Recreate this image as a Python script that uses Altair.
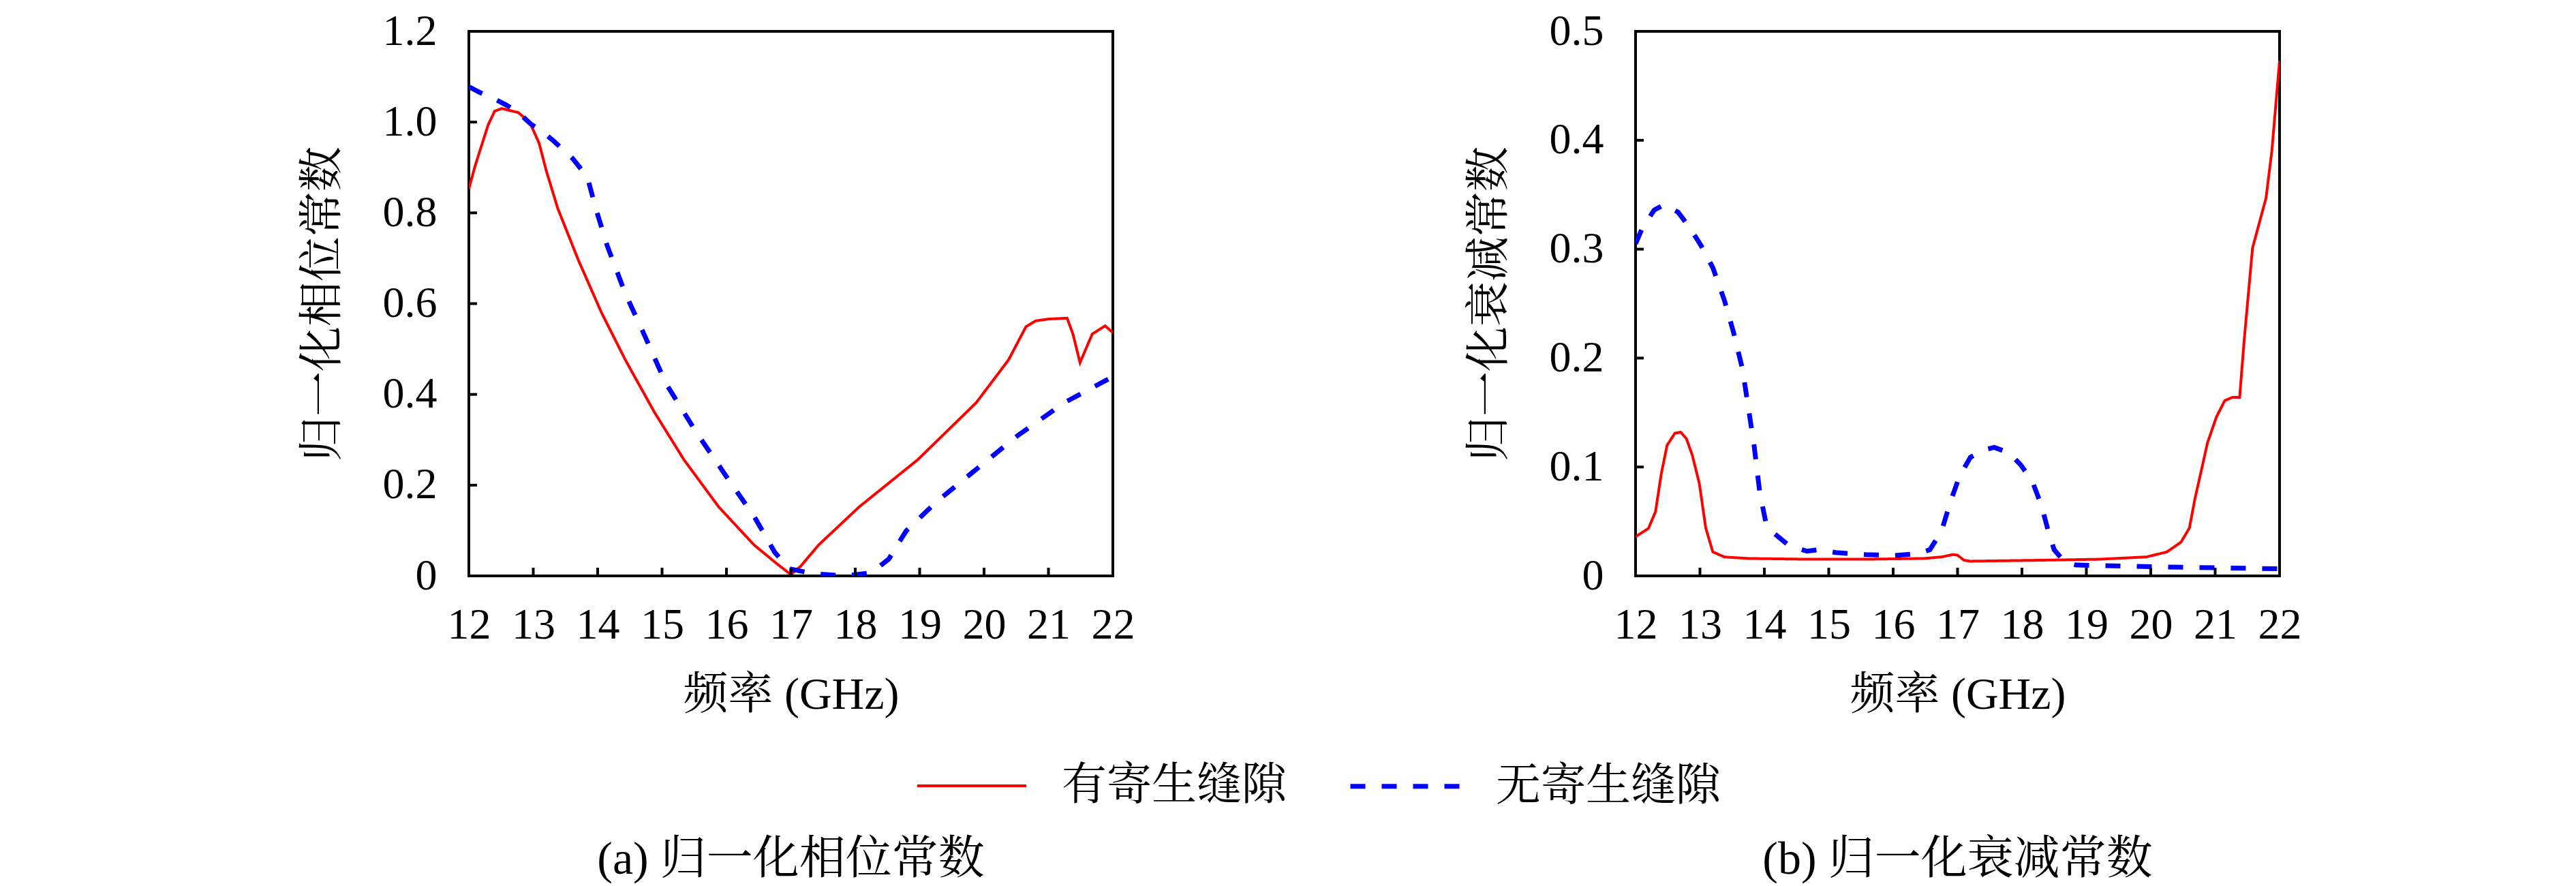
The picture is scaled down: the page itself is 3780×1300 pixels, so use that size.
import altair as alt
import pandas as pd

# ---------------- data ----------------
series_names = ["有寄生缝隙", "无寄生缝隙"]

# (a) normalized phase constant
freq_a_gap = [12.0, 12.1, 12.21, 12.3, 12.4, 12.51, 12.77, 12.95, 13.09, 13.2, 13.38, 13.7,
              14.06, 14.43, 14.88, 15.34, 15.88, 16.43, 16.79, 17.0, 17.15, 17.43, 18.06,
              18.97, 19.88, 20.38, 20.65, 20.8, 21.0, 21.29, 21.38, 21.49, 21.68, 21.88, 22.0]
phase_gap = [0.853, 0.905, 0.954, 0.994, 1.024, 1.03, 1.021, 0.998, 0.954, 0.894, 0.81, 0.696,
             0.58, 0.476, 0.361, 0.256, 0.152, 0.068, 0.026, 0.003, 0.021, 0.068, 0.152,
             0.256, 0.382, 0.476, 0.549, 0.562, 0.566, 0.568, 0.533, 0.47, 0.533, 0.551, 0.536]

freq_a_nogap = [12.0, 12.19, 12.4, 12.59, 12.77, 12.96, 13.14, 13.32, 13.61, 13.84, 13.97,
                14.15, 14.43, 14.7, 15.06, 15.52, 15.97, 16.43, 16.75, 16.97, 17.34, 17.84,
                18.25, 18.52, 18.79, 19.25, 19.88, 20.52, 21.25, 22.0]
phase_nogap = [1.078, 1.064, 1.051, 1.037, 1.021, 0.996, 0.979, 0.958, 0.92, 0.879, 0.81,
               0.727, 0.622, 0.539, 0.424, 0.319, 0.225, 0.131, 0.052, 0.016, 0.005, 0.0,
               0.007, 0.037, 0.099, 0.162, 0.235, 0.309, 0.382, 0.439]

# (b) normalized attenuation constant
freq_b_gap = [12.0, 12.2, 12.31, 12.4, 12.49, 12.61, 12.7, 12.79, 12.88, 12.99, 13.09, 13.2,
              13.38, 13.75, 14.66, 15.57, 16.48, 16.75, 16.93, 17.0, 17.1, 17.2, 18.3, 19.2,
              19.93, 20.25, 20.47, 20.6, 20.69, 20.79, 20.88, 21.02, 21.15, 21.27, 21.38,
              21.45, 21.58, 21.79, 21.88, 22.0]
atten_gap = [0.036, 0.0436, 0.059, 0.094, 0.12, 0.131, 0.132, 0.126, 0.111, 0.085, 0.044, 0.022,
             0.0174, 0.016, 0.0153, 0.0153, 0.016, 0.0174, 0.0196, 0.019, 0.0144, 0.0135, 0.0144,
             0.0153, 0.0174, 0.022, 0.031, 0.044, 0.072, 0.098, 0.122, 0.146, 0.161, 0.164, 0.164,
             0.216, 0.301, 0.347, 0.39, 0.473]

freq_b_nogap = [12.0, 12.11, 12.29, 12.45, 12.66, 12.84, 13.02, 13.2, 13.38, 13.52, 13.66, 13.75,
                13.84, 13.93, 14.02, 14.11, 14.38, 14.66, 14.84, 15.11, 15.57, 16.02, 16.39,
                16.57, 16.75, 16.89, 17.03, 17.2, 17.43, 17.57, 17.8, 17.98, 18.16, 18.3, 18.41,
                18.5, 18.66, 18.84, 19.2, 20.12, 21.03, 22.0]
atten_nogap = [0.305, 0.32, 0.336, 0.341, 0.334, 0.32, 0.303, 0.283, 0.253, 0.224, 0.19, 0.155,
               0.12, 0.076, 0.05, 0.041, 0.028, 0.0227, 0.024, 0.0214, 0.0196, 0.0187, 0.0205,
               0.024, 0.041, 0.068, 0.0915, 0.109, 0.116, 0.118, 0.113, 0.102, 0.087, 0.065, 0.041,
               0.024, 0.013, 0.01, 0.0096, 0.0083, 0.0074, 0.0065]

x_ticks = list(range(12, 23))
ya_ticks = [0, 0.2, 0.4, 0.6, 0.8, 1.0, 1.2]
yb_ticks = [0, 0.1, 0.2, 0.3, 0.4, 0.5]

x_title = "频率 (GHz)"
ya_title = "归一化相位常数"
yb_title = "归一化衰减常数"
cap_a = "(a) 归一化相位常数"
cap_b = "(b) 归一化衰减常数"

# ---------------- chart ----------------
FONT = "Liberation Serif, Noto Serif CJK SC, Noto Sans CJK SC"
W, H = 945, 799
TICK = 12


def make_df(f1, v1, f2, v2):
    return pd.DataFrame({
        "f": list(f1) + list(f2),
        "v": list(v1) + list(v2),
        "s": [series_names[0]] * len(f1) + [series_names[1]] * len(f2),
    })


def panel(df, ydom, yticks, ytitle, caption):
    xs = alt.Scale(domain=[12, 22], nice=False, zero=False)
    ys = alt.Scale(domain=ydom, nice=False, zero=False)
    lines = alt.Chart(df).mark_line(clip=True).encode(
        x=alt.X("f:Q", scale=xs, axis=alt.Axis(values=x_ticks, title=x_title, format="d")),
        y=alt.Y("v:Q", scale=ys, axis=alt.Axis(
            values=yticks, title=ytitle,
            labelExpr="datum.value == 0 ? '0' : format(datum.value, '.1f')")),
        color=alt.Color("s:N", scale=alt.Scale(domain=series_names, range=["#ff0000", "#0000ff"]),
                        legend=alt.Legend(title=None)),
        strokeDash=alt.StrokeDash("s:N", scale=alt.Scale(domain=series_names, range=[[1, 0], [22, 24]]),
                                  legend=alt.Legend(title=None)),
        strokeWidth=alt.StrokeWidth("s:N", scale=alt.Scale(domain=series_names, range=[4, 7]),
                                    legend=alt.Legend(title=None)),
    )
    xt = alt.Chart(pd.DataFrame({"f": x_ticks})).mark_rule(color="black", strokeWidth=4).encode(
        x=alt.X("f:Q", scale=xs), y=alt.value(H), y2=alt.value(H - TICK))
    yt = alt.Chart(pd.DataFrame({"v": yticks})).mark_rule(color="black", strokeWidth=4).encode(
        y=alt.Y("v:Q", scale=ys), x=alt.value(0), x2=alt.value(TICK))
    return alt.layer(lines, xt, yt).properties(
        width=W, height=H,
        title=alt.TitleParams(caption, orient="bottom", anchor="middle", frame="group",
                              offset=176, fontSize=68, font=FONT, fontWeight="normal", color="black"),
    )


pa = panel(make_df(freq_a_gap, phase_gap, freq_a_nogap, phase_nogap), [0, 1.2], ya_ticks, ya_title, cap_a)
pb = panel(make_df(freq_b_gap, atten_gap, freq_b_nogap, atten_nogap), [0, 0.5], yb_ticks, yb_title, cap_b)

chart = alt.hconcat(pa, pb, spacing=483).resolve_scale(
    x="independent", y="independent", color="shared", strokeDash="shared", strokeWidth="shared"
).properties(
    padding={"left": 430, "top": 4, "right": 0, "bottom": 0}
).configure_view(
    stroke="black", strokeWidth=4
).configure_axis(
    domain=False, ticks=False, grid=False,
    labelFont=FONT, labelFontSize=64, labelColor="black",
    titleFont=FONT, titleFontSize=66, titleFontWeight="normal", titleColor="black",
).configure_axisX(
    labelPadding=40, titlePadding=38, labelFlush=False,
).configure_axisY(
    labelPadding=47, titlePadding=54, labelFlush=False,
).configure_legend(
    orient="none", legendX=656, legendY=1024, direction="horizontal",
    symbolType="stroke", symbolSize=25600, labelFont=FONT, labelFontSize=66,
    labelColor="black", labelOffset=50, columnPadding=79, padding=0, labelLimit=0,
)

chart.save("out.html", embed_options={"renderer": "svg", "actions": False})
